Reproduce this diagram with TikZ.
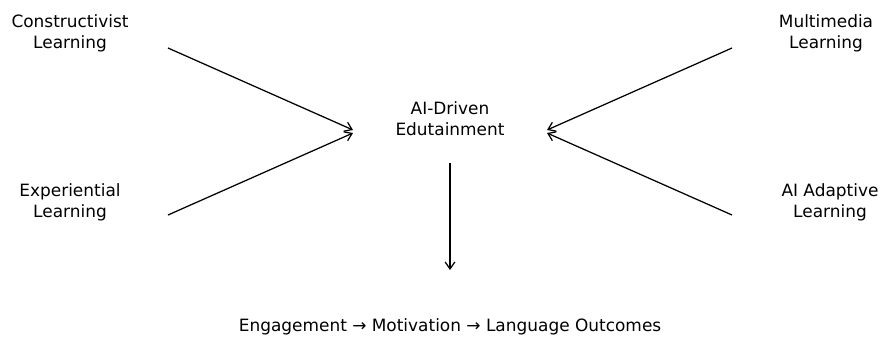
\documentclass[tikz,border=0pt]{standalone}
\usepackage{fontspec}
\setmainfont{DejaVu Sans}
\usetikzlibrary{arrows.meta}

\begin{document}
\begin{tikzpicture}[x=0.72pt, y=-0.72pt]
   \tikzstyle{every node}=[align=center, inner sep=0pt, font=\fontsize{12.2}{15.2}\selectfont]
   \tikzstyle{link}=[draw, line width=0.9pt, -{Straight Barb[length=5pt, width=7pt]}]
   \useasboundingbox (0,0) rectangle (880,336);

\node (constr) at (70,33) {Constructivist\\Learning};
\node (exper)  at (70,202) {Experiential\\Learning};
\node (multi)  at (826,33) {Multimedia\\Learning};
\node (adapt)  at (830,202) {AI Adaptive\\Learning};
\node (hub)    at (450,119) {AI-Driven\\Edutainment};
\node (goal)   at (450,327) {Engagement → Motivation → Language Outcomes};

% arrow ends
\coordinate (constr-out) at (168,48);
\coordinate (exper-out)  at (168,215);
\coordinate (multi-out)  at (732,48);
\coordinate (adapt-out)  at (732,215);
\coordinate (hub-w1) at (353,130);
\coordinate (hub-w2) at (353,133);
\coordinate (hub-e1) at (547,130);
\coordinate (hub-e2) at (547,133);
\coordinate (hub-s)  at (450,163);
\coordinate (goal-n) at (450,270);

\path[link] (constr-out) -- (hub-w1);
\path[link] (exper-out) -- (hub-w2);
\path[link] (multi-out) -- (hub-e1);
\path[link] (adapt-out) -- (hub-e2);
\path[link] (hub-s) -- (goal-n);

\end{tikzpicture}
\end{document}
